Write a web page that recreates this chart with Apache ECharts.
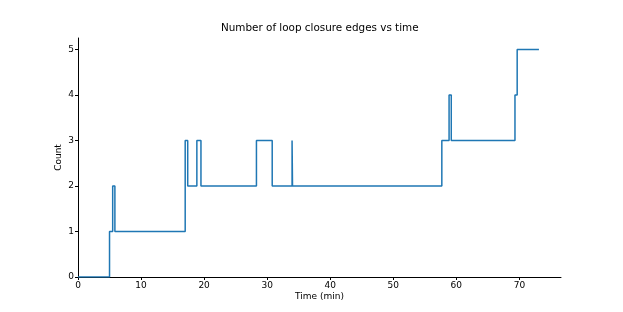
<!DOCTYPE html>
<html><head><meta charset="utf-8">
<script src="https://cdn.jsdelivr.net/npm/echarts@6/dist/echarts.min.js"></script>
<style>html,body{margin:0;padding:0;background:#fff}#c{width:623px;height:312px}</style>
</head><body><div id="c"></div>
<script>
// change times (min) and the count from each time onward
const times  = [0, 5.0, 5.5, 5.85, 17.0, 17.4, 18.85, 19.5, 28.3, 30.8, 33.95, 34.02, 57.7, 58.85, 59.2, 69.3, 69.65, 73.1];
const counts = [0, 1,   2,   1,    3,    2,    3,     2,    3,    2,    3,     2,     3,    4,     3,    4,    5,     5];
const xTicks = [0, 10, 20, 30, 40, 50, 60, 70];
const yTicks = [0, 1, 2, 3, 4, 5];

const data = times.map((t, i) => [t, counts[i]]);
const font = 'DejaVu Sans';
const chart = echarts.init(document.getElementById('c'), null, {renderer: 'canvas'});
chart.setOption({
  animation: false,
  title: {text: 'Number of loop closure edges vs time', left: 221, top: 23, padding: 0,
    textStyle: {fontFamily: font, fontSize: 10.4, fontWeight: 'normal', color: '#000'}},
  grid: {left: 78, right: 62, top: 38, bottom: 35},
  xAxis: {type: 'value', min: 0, max: 76.6,
    name: 'Time (min)', nameLocation: 'middle', nameGap: 15, nameMoveOverlap: false,
    nameTextStyle: {fontFamily: font, fontSize: 9, color: '#000'},
    axisLine: {onZero: false, lineStyle: {color: '#000', width: 1}},
    axisTick: {show: true, length: 3, customValues: xTicks, lineStyle: {color: '#000'}},
    axisLabel: {customValues: xTicks, fontFamily: font, fontSize: 9, color: '#000', margin: 4},
    splitLine: {show: false}},
  yAxis: {type: 'value', min: 0, max: 5.25,
    name: 'Count', nameLocation: 'middle', nameGap: 15, nameRotate: 90, nameMoveOverlap: false,
    nameTextStyle: {fontFamily: font, fontSize: 9, color: '#000'},
    axisLine: {show: true, lineStyle: {color: '#000', width: 1}},
    axisTick: {show: true, length: 3, customValues: yTicks, lineStyle: {color: '#000'}},
    axisLabel: {customValues: yTicks, fontFamily: font, fontSize: 9, color: '#000', margin: 4},
    splitLine: {show: false}},
  series: [{type: 'line', step: 'end', data: data, showSymbol: false,
    lineStyle: {color: '#1f77b4', width: 1.5}}]
});
</script></body></html>
